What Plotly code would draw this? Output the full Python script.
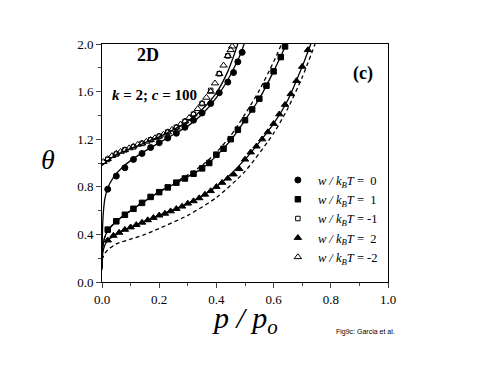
import plotly.graph_objects as go

############# Data #############
# symbols (simulation points)
x_w0 = [0.02, 0.05, 0.08, 0.11, 0.14, 0.17, 0.20, 0.23, 0.26, 0.29, 0.32, 0.35, 0.38, 0.41, 0.44, 0.46, 0.475, 0.49]
y_w0 = [0.78, 0.89, 0.96, 1.03, 1.08, 1.13, 1.17, 1.21, 1.25, 1.30, 1.36, 1.42, 1.50, 1.59, 1.68, 1.76, 1.85, 1.93]

x_w1 = [0.02, 0.05, 0.08, 0.11, 0.14, 0.17, 0.20, 0.23, 0.26, 0.29, 0.32, 0.35, 0.375, 0.40, 0.425, 0.45,
        0.475, 0.50, 0.525, 0.55, 0.575, 0.60, 0.625, 0.64]
y_w1 = [0.44, 0.51, 0.565, 0.615, 0.665, 0.715, 0.755, 0.795, 0.835, 0.87, 0.91, 0.955, 1.0, 1.07, 1.12, 1.20,
        1.28, 1.36, 1.45, 1.54, 1.65, 1.77, 1.89, 1.98]

x_wm1 = [0.02, 0.05, 0.08, 0.11, 0.14, 0.17, 0.20, 0.23, 0.26, 0.29, 0.32, 0.35, 0.38, 0.41, 0.44]
y_wm1 = [1.03, 1.075, 1.11, 1.135, 1.165, 1.195, 1.225, 1.26, 1.30, 1.35, 1.41, 1.50, 1.61, 1.75, 1.90]

x_w2 = [0.02, 0.04, 0.06, 0.08, 0.10, 0.12, 0.14, 0.16, 0.18, 0.20, 0.22, 0.24, 0.26, 0.28, 0.30, 0.32,
        0.34, 0.36, 0.38, 0.40, 0.42, 0.44, 0.46, 0.48, 0.50, 0.52, 0.54, 0.56, 0.58, 0.60, 0.62, 0.64,
        0.66, 0.68, 0.70, 0.72]
y_w2 = [0.35, 0.39, 0.415, 0.44, 0.46, 0.48, 0.50, 0.52, 0.54, 0.56, 0.575, 0.595, 0.615, 0.635, 0.66, 0.68,
        0.705, 0.735, 0.765, 0.80, 0.835, 0.87, 0.905, 0.95, 1.03, 1.09, 1.14, 1.20, 1.26, 1.33, 1.41, 1.49,
        1.58, 1.69, 1.81, 1.95]

x_wm2 = [0.005, 0.02, 0.035, 0.05, 0.065, 0.08, 0.095, 0.11, 0.125, 0.14, 0.155, 0.17, 0.185, 0.20, 0.215,
         0.23, 0.245, 0.26, 0.275, 0.29, 0.305, 0.32, 0.335, 0.35, 0.365, 0.38, 0.395, 0.41, 0.425, 0.44,
         0.45, 0.455]
y_wm2 = [1.01, 1.035, 1.06, 1.08, 1.095, 1.11, 1.125, 1.14, 1.155, 1.165, 1.18, 1.195, 1.21, 1.225, 1.24,
         1.26, 1.28, 1.30, 1.325, 1.35, 1.38, 1.41, 1.455, 1.50, 1.55, 1.60, 1.67, 1.75, 1.82, 1.90,
         1.95, 1.98]

# theory curves
lx_w0 = [0.0, 0.001, 0.003, 0.006, 0.01, 0.02, 0.04, 0.07, 0.10, 0.15, 0.20, 0.25, 0.30, 0.35, 0.40, 0.44, 0.47, 0.48, 0.497]
ly_w0 = [0.10, 0.35, 0.52, 0.62, 0.70, 0.79, 0.88, 0.96, 1.02, 1.10, 1.17, 1.24, 1.31, 1.41, 1.55, 1.70, 1.84, 1.89, 2.0]

lx_wm = [0.0, 0.05, 0.10, 0.15, 0.20, 0.25, 0.30, 0.35, 0.40, 0.44, 0.475]
ly_wm = [0.98, 1.07, 1.12, 1.17, 1.22, 1.28, 1.35, 1.45, 1.59, 1.77, 2.0]

lx_w1 = [0.0, 0.001, 0.003, 0.01, 0.02, 0.05, 0.10, 0.15, 0.20, 0.25, 0.30, 0.35, 0.40, 0.45, 0.50, 0.55, 0.60, 0.645]
ly_w1 = [0.12, 0.22, 0.30, 0.38, 0.43, 0.51, 0.60, 0.68, 0.755, 0.82, 0.885, 0.955, 1.06, 1.19, 1.36, 1.54, 1.77, 2.0]
lx_w1_d = [0.0, 0.001, 0.003, 0.01, 0.02, 0.05, 0.10, 0.15, 0.20, 0.25, 0.30, 0.35, 0.40, 0.45, 0.50, 0.55, 0.60, 0.628]
ly_w1_d = [0.12, 0.22, 0.30, 0.38, 0.43, 0.51, 0.60, 0.68, 0.76, 0.83, 0.90, 0.98, 1.09, 1.23, 1.41, 1.61, 1.85, 2.0]

lx_w2 = [0.0, 0.001, 0.003, 0.01, 0.02, 0.05, 0.10, 0.20, 0.30, 0.40, 0.50, 0.60, 0.65, 0.70, 0.73]
ly_w2 = [0.12, 0.20, 0.25, 0.31, 0.35, 0.40, 0.46, 0.56, 0.66, 0.80, 1.03, 1.33, 1.53, 1.81, 2.0]
lx_w2_d = [0.0, 0.01, 0.02, 0.05, 0.10, 0.15, 0.20, 0.30, 0.40, 0.50, 0.60, 0.65, 0.70, 0.745]
ly_w2_d = [0.19, 0.24, 0.27, 0.32, 0.36, 0.40, 0.45, 0.56, 0.71, 0.93, 1.25, 1.46, 1.72, 2.0]

lab = "<i>w / k<sub>B</sub>T</i> = "

############# Plotting Chart #############
fig = go.Figure()

# lines first so symbols sit on top
for lx, ly, dash in [(lx_w0, ly_w0, 'solid'), (lx_wm, ly_wm, 'solid'), (lx_w1, ly_w1, 'solid'),
                     (lx_w1_d, ly_w1_d, '4px,3px'), (lx_w2, ly_w2, 'solid'), (lx_w2_d, ly_w2_d, '4px,3px')]:
    fig.add_trace(go.Scatter(x=lx, y=ly, mode='lines', showlegend=False,
                             line=dict(color='black', width=1.3, dash=dash, shape='spline', smoothing=0.7)))

series = [
    (x_w0, y_w0, 'circle', lab + ' 0', 6),
    (x_w1, y_w1, 'square', lab + ' 1', 5.5),
    (x_wm1, y_wm1, 'square-open', lab + '-1', 4.5),
    (x_w2, y_w2, 'triangle-up', lab + ' 2', 6.5),
    (x_wm2, y_wm2, 'triangle-up-open', lab + '-2', 6.5),
]
for sx, sy, sym, name, size in series:
    fig.add_trace(go.Scatter(x=sx, y=sy, mode='markers', name=name,
                             marker=dict(symbol=sym, size=size, color='black',
                                         line=dict(color='black', width=1))))


def note(text, x, y, size, family='Liberation Serif'):
    return dict(text=text, xref='paper', yref='paper', x=x, y=y, xanchor='center', yanchor='middle',
                showarrow=False, font=dict(size=size, family=family))


fig.update_layout(
    width=491, height=379,
    margin=dict(l=94, r=111, t=36, b=105),
    paper_bgcolor='white', plot_bgcolor='white',
    font=dict(family='Liberation Serif', color='black', size=13),
    legend=dict(x=0.615, y=0.49, xanchor='left', yanchor='top', bgcolor='rgba(0,0,0,0)',
                font=dict(family='Liberation Serif', size=12.5), itemwidth=30, tracegroupgap=0),
    xaxis=dict(range=[0, 1.0], tickvals=[0, 0.2, 0.4, 0.6, 0.8, 1.0], ticktext=['0.0', '0.2', '0.4', '0.6', '0.8', '1.0'],
               ticks='outside', ticklen=5, tickwidth=1, showgrid=False, zeroline=False,
               showline=True, linecolor='black', linewidth=1, mirror=True,
               minor=dict(tickvals=[0.1, 0.3, 0.5, 0.7, 0.9], ticks='outside', ticklen=3),
               tickfont=dict(size=13)),
    yaxis=dict(range=[0, 2.0], tickvals=[0, 0.4, 0.8, 1.2, 1.6, 2.0], ticktext=['0.0', '0.4', '0.8', '1.2', '1.6', '2.0'],
               ticks='outside', ticklen=5, tickwidth=1, showgrid=False, zeroline=False,
               showline=True, linecolor='black', linewidth=1, mirror=True,
               minor=dict(tickvals=[0.2, 0.6, 1.0, 1.4, 1.8], ticks='outside', ticklen=3),
               tickfont=dict(size=13)),
    annotations=[
        note('<b>2D</b>', 0.16, 0.954, 18),
        note('<b><i>k</i> = 2; <i>c</i> = 100</b>', 0.185, 0.786, 15),
        note('<b>(c)</b>', 0.913, 0.878, 18),
        note('<i>θ</i>', -0.189, 0.513, 28),
        note('<i>p / p<sub>o</sub></i>', 0.5, -0.16, 30),
        note('Fig9c: Garcia et al.', 0.923, -0.21, 7, 'Liberation Sans'),
    ],
)

fig.write_html("out.html")
